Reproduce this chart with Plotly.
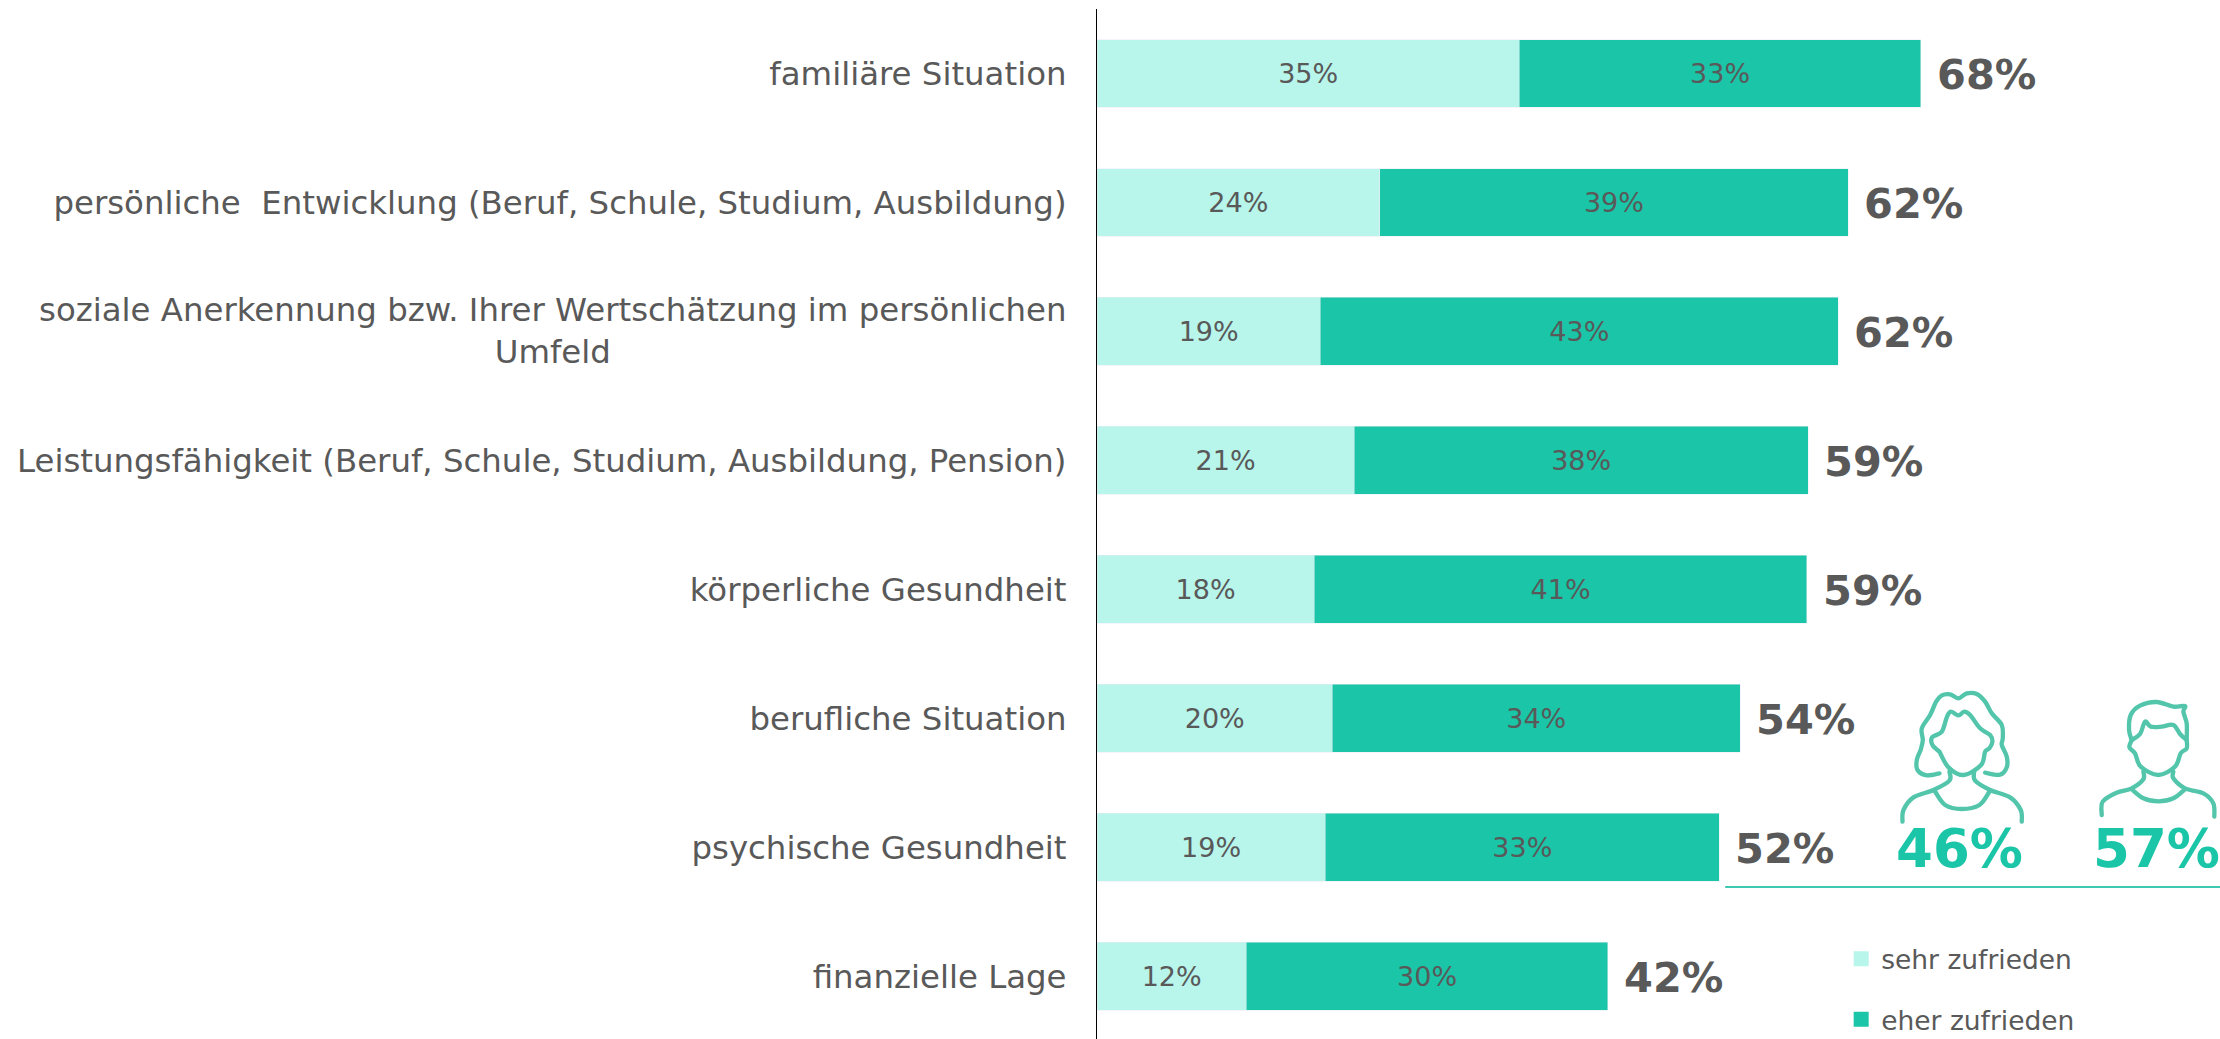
import base64
import plotly.graph_objects as go

categories = [
    "familiäre Situation",
    "persönliche\u00a0 Entwicklung (Beruf, Schule, Studium, Ausbildung)",
    "soziale Anerkennung bzw. Ihrer Wertschätzung im persönlichen<br>Umfeld",
    "Leistungsfähigkeit (Beruf, Schule, Studium, Ausbildung, Pension)",
    "körperliche Gesundheit",
    "berufliche Situation",
    "psychische Gesundheit",
    "finanzielle Lage",
]
sehr_zufrieden = [34.8, 23.3, 18.4, 21.2, 17.9, 19.4, 18.8, 12.3]
eher_zufrieden = [33.1, 38.6, 42.7, 37.4, 40.6, 33.6, 32.5, 29.8]
sehr_labels = ["35%", "24%", "19%", "21%", "18%", "20%", "19%", "12%"]
eher_labels = ["33%", "39%", "43%", "38%", "41%", "34%", "33%", "30%"]
total_labels = ["68%", "62%", "62%", "59%", "59%", "54%", "52%", "42%"]
gender_labels = ["46%", "57%"]
series_names = ["sehr zufrieden", "eher zufrieden"]

LIGHT = "#b8f5ea"
DARK = "#1bc5a7"
TEXT = "#595959"
ICON = "#52c5ab"
FONT = "DejaVu Sans"
W, H = 2220, 1039
L, T = 1096.5, 9
EXTRA = 30  # paper continues below the window so the legend does not push the plot margin


def px(x):
    return (x - L) / (W - L)


def py(y):
    return 1 - (y - T) / (H - T)


def smooth(pts):
    d = f"M{pts[0][0]},{pts[0][1]}"
    for i in range(len(pts) - 1):
        p0 = pts[max(i - 1, 0)]
        p1, p2 = pts[i], pts[i + 1]
        p3 = pts[min(i + 2, len(pts) - 1)]
        c1 = (p1[0] + (p2[0] - p0[0]) / 6, p1[1] + (p2[1] - p0[1]) / 6)
        c2 = (p2[0] - (p3[0] - p1[0]) / 6, p2[1] - (p3[1] - p1[1]) / 6)
        d += f"C{c1[0]:.1f},{c1[1]:.1f} {c2[0]:.1f},{c2[1]:.1f} {p2[0]},{p2[1]}"
    return d


icon_strokes = [
    # woman
    [(718, 340), (680, 346), (652, 330), (650, 300), (662, 268), (668, 240), (665, 205), (690, 165), (708, 125),
     (725, 106), (750, 103), (775, 115), (800, 100), (830, 102), (855, 125), (875, 160), (905, 195), (908, 235),
     (905, 255), (920, 290), (920, 322), (900, 344), (855, 338)],
    [(718, 275), (697, 255), (696, 232), (725, 215), (740, 172), (752, 155), (775, 166), (792, 155), (810, 165),
     (840, 205), (870, 225), (877, 245), (868, 265), (855, 275), (843, 315), (790, 345), (745, 322), (718, 275)],
    [(748, 335), (748, 362), (700, 390), (640, 412), (610, 450), (607, 485)],
    [(822, 335), (825, 362), (870, 390), (930, 412), (962, 450), (965, 485)],
    [(705, 395), (735, 435), (785, 447), (838, 435), (868, 395)],
    # man
    [(1295, 240), (1287, 210), (1292, 165), (1320, 137), (1370, 126), (1420, 140), (1455, 138), (1450, 155),
     (1460, 190), (1460, 237)],
    [(1295, 240), (1320, 222), (1335, 185), (1352, 200), (1385, 200), (1420, 195), (1440, 222), (1460, 240)],
    [(1295, 240), (1288, 262), (1305, 280), (1322, 320), (1375, 345), (1425, 320), (1442, 280), (1460, 265), (1460, 240)],
    [(1330, 335), (1330, 358), (1295, 385), (1250, 398), (1208, 425), (1205, 465)],
    [(1420, 335), (1420, 355), (1455, 385), (1510, 400), (1540, 430), (1543, 470)],
    [(1295, 388), (1330, 415), (1375, 424), (1420, 415), (1455, 388)],
]
paths = "".join(f'<path d="{smooth(s)}"/>' for s in icon_strokes)
svg = (
    '<svg xmlns="http://www.w3.org/2000/svg" width="520" height="379" viewBox="0 0 1560 1137">'
    f'<g fill="none" stroke="{ICON}" stroke-width="13" stroke-linecap="round" stroke-linejoin="round">'
    f"{paths}</g></svg>"
)
icon_uri = "data:image/svg+xml;base64," + base64.b64encode(svg.encode()).decode()

fig = go.Figure()
fig.add_bar(
    y=categories, x=sehr_zufrieden, orientation="h", marker_color=LIGHT, text=sehr_labels,
    textposition="inside", insidetextanchor="middle", textangle=0, showlegend=False, name=series_names[0],
    textfont=dict(family=FONT, size=27, color=TEXT),
)
fig.add_bar(
    y=categories, x=eher_zufrieden, orientation="h", marker_color=DARK, text=eher_labels,
    textposition="inside", insidetextanchor="middle", textangle=0, showlegend=False, name=series_names[1],
    textfont=dict(family=FONT, size=27, color=TEXT),
)
for name, color in zip(series_names, [LIGHT, DARK]):
    fig.add_scatter(
        x=[None], y=[None], mode="markers", name=name, legendgroup=name,
        marker=dict(symbol="square", size=15, color=color),
    )

annotations = []
for cat, a, b, label in zip(categories, sehr_zufrieden, eher_zufrieden, total_labels):
    annotations.append(dict(
        x=a + b, y=cat, xref="x", yref="y", text=label, showarrow=False, xanchor="left", yanchor="middle",
        xshift=14, yshift=-1, font=dict(family=FONT, size=41.5, color=TEXT, weight="bold"),
    ))
annotations.append(dict(
    x=0, y=categories[2], xref="x", yref="y", text=categories[2], showarrow=False, xanchor="right",
    yanchor="middle", align="center", xshift=-28, font=dict(family=FONT, size=32.4, color=TEXT),
))
for label, cx in zip(gender_labels, [1959, 2156]):
    annotations.append(dict(
        x=px(cx), y=py(848), xref="paper", yref="paper", text=label, showarrow=False, xanchor="center",
        yanchor="middle", font=dict(family=FONT, size=53, color=DARK, weight="bold"),
    ))

fig.update_layout(
    width=W, height=H + EXTRA, margin=dict(l=L, r=0, t=T, b=EXTRA, pad=0), autosize=False,
    barmode="stack", bargap=0.473, plot_bgcolor="white", paper_bgcolor="white",
    font=dict(family=FONT, color=TEXT),
    xaxis=dict(range=[0, 92.55], visible=False),
    yaxis=dict(
        range=[7.485, -0.5], autorange=False, showline=True, linecolor="black", linewidth=1, showgrid=False,
        zeroline=False, ticks="", tickmode="array", tickvals=categories,
        ticktext=["" if "<br>" in c else c for c in categories],
        tickfont=dict(family=FONT, size=32.4, color=TEXT), ticklabelstandoff=23,
    ),
    legend=dict(
        x=px(1847), y=py(935), xanchor="left", yanchor="top", tracegroupgap=23, bgcolor="rgba(0,0,0,0)",
        font=dict(family=FONT, size=26.5, color=TEXT), itemclick=False, itemdoubleclick=False, indentation=-6,
    ),
    annotations=annotations,
    shapes=[dict(
        type="line", xref="paper", yref="paper", x0=px(1725), x1=px(2220), y0=py(887), y1=py(887),
        line=dict(color="#3cc9b0", width=2),
    )],
    images=[dict(
        source=icon_uri, xref="paper", yref="paper", x=px(1700), y=py(660), sizex=520 / (W - L),
        sizey=379 / (H - T), xanchor="left", yanchor="top", sizing="stretch", layer="above",
    )],
)
fig.write_html(
    "out.html", config=dict(displayModeBar=False),
    post_script="document.body.style.margin='0';document.body.style.overflow='hidden';",
)
